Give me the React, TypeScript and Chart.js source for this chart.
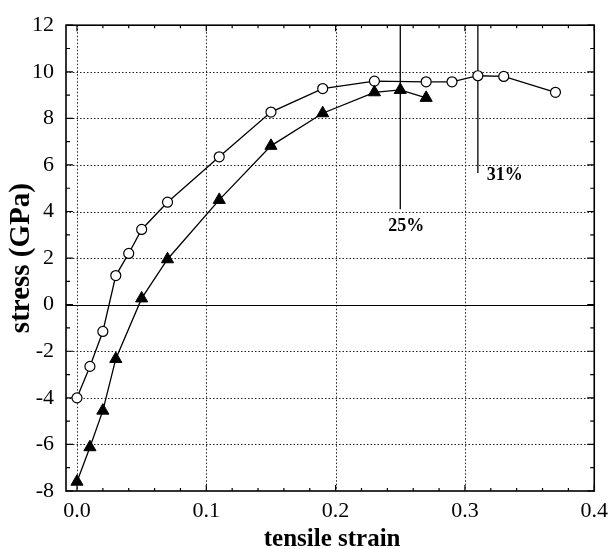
import React, { useEffect, useRef } from 'react';
import { Chart, registerables } from 'chart.js';

Chart.register(...registerables);

// open circles
const strainCircles = [0, 0.01, 0.02, 0.03, 0.04, 0.05, 0.07, 0.11, 0.15, 0.19, 0.23, 0.27, 0.29, 0.31, 0.33, 0.37];
const stressCircles = [-4.0, -2.65, -1.15, 1.25, 2.2, 3.23, 4.4, 6.35, 8.27, 9.28, 9.6, 9.57, 9.57, 9.83, 9.8, 9.12];
// filled triangles
const strainTriangles = [0, 0.01, 0.02, 0.03, 0.05, 0.07, 0.11, 0.15, 0.19, 0.23, 0.25, 0.27];
const stressTriangles = [-7.6, -6.12, -4.55, -2.33, 0.27, 1.95, 4.5, 6.82, 8.22, 9.12, 9.22, 8.88];

// annotation markers
const markStrain = [0.25, 0.31];
const markTop = [12, 12];
const markEnd = [4.1, 5.65];
const markLabels = ['25%', '31%'];

const xTicks = [0, 0.1, 0.2, 0.3, 0.4];
const yTicks = [-8, -6, -4, -2, 0, 2, 4, 6, 8, 10, 12];

const FONT = "'Liberation Serif', 'Times New Roman', serif";

const framePlugin = {
  id: 'framePlugin',
  beforeDatasetsDraw(chart: any) {
    const { ctx, chartArea: a, scales } = chart;
    const x = scales.x;
    const y = scales.y;
    ctx.save();
    // dotted grid
    ctx.strokeStyle = '#222';
    ctx.lineWidth = 1;
    ctx.setLineDash([1.5, 2]);
    for (const v of xTicks) {
      const px = Math.round(x.getPixelForValue(v)) + 0.5;
      if (px < a.left + 2 || px > a.right - 2) continue;
      ctx.beginPath();
      ctx.moveTo(px, a.top);
      ctx.lineTo(px, a.bottom);
      ctx.stroke();
    }
    for (const v of yTicks) {
      if (v === 0) continue;
      const py = Math.round(y.getPixelForValue(v)) + 0.5;
      if (py < a.top + 2 || py > a.bottom - 2) continue;
      ctx.beginPath();
      ctx.moveTo(a.left, py);
      ctx.lineTo(a.right, py);
      ctx.stroke();
    }
    ctx.setLineDash([]);
    // zero line
    ctx.strokeStyle = '#000';
    ctx.lineWidth = 1;
    const p0 = Math.round(y.getPixelForValue(0)) + 0.5;
    ctx.beginPath();
    ctx.moveTo(a.left, p0);
    ctx.lineTo(a.right, p0);
    ctx.stroke();
    // frame
    ctx.lineWidth = 1.6;
    ctx.strokeRect(a.left, a.top, a.right - a.left, a.bottom - a.top);
    // inward ticks
    ctx.lineWidth = 1.2;
    for (let k = 0; k <= 20; k++) {
      const v = k * 0.02;
      const px = x.getPixelForValue(v);
      const len = k % 5 === 0 ? 6 : 3;
      ctx.beginPath();
      ctx.moveTo(px, a.bottom);
      ctx.lineTo(px, a.bottom - len);
      ctx.moveTo(px, a.top);
      ctx.lineTo(px, a.top + len);
      ctx.stroke();
    }
    for (let v = -8; v <= 12; v++) {
      const py = y.getPixelForValue(v);
      const len = v % 2 === 0 ? 7 : 4;
      ctx.beginPath();
      ctx.moveTo(a.left, py);
      ctx.lineTo(a.left + len, py);
      ctx.moveTo(a.right, py);
      ctx.lineTo(a.right - len, py);
      ctx.stroke();
    }
    ctx.restore();
  },
  afterDraw(chart: any) {
    const { ctx, chartArea: a, scales } = chart;
    const x = scales.x;
    const y = scales.y;
    ctx.save();
    ctx.fillStyle = '#000';
    // axis titles
    ctx.font = `bold 25px ${FONT}`;
    ctx.textAlign = 'center';
    ctx.textBaseline = 'alphabetic';
    ctx.fillText('tensile strain', (a.left + a.right) / 2 + 2, 546);
    ctx.save();
    ctx.translate(29, (a.top + a.bottom) / 2);
    ctx.rotate(-Math.PI / 2);
    ctx.font = `bold 29px ${FONT}`;
    ctx.fillText('stress (GPa)', 0, 0);
    ctx.restore();
    // annotation labels
    ctx.font = `bold 18px ${FONT}`;
    ctx.textBaseline = 'middle';
    markLabels.forEach((t, i) => {
      const px = x.getPixelForValue(markStrain[i]);
      const py = y.getPixelForValue(markEnd[i]);
      if (i === 0) {
        ctx.textAlign = 'center';
        ctx.fillText(t, px + 6, py + 17);
      } else {
        ctx.textAlign = 'left';
        ctx.fillText(t, px + 9, py + 2);
      }
    });
    ctx.restore();
  },
};

export default function App() {
  const ref = useRef<HTMLCanvasElement | null>(null);
  useEffect(() => {
    document.body.style.margin = '0';
    const canvas = ref.current;
    if (!canvas) return;
    const markSets = markStrain.map((s, i) => ({
      label: markLabels[i],
      data: [
        { x: s, y: markTop[i] },
        { x: s, y: markEnd[i] },
      ],
      showLine: true,
      borderColor: '#000',
      borderWidth: 1.3,
      pointRadius: 0,
      order: 3,
    }));
    const chart = new Chart(canvas, {
      type: 'scatter',
      data: {
        datasets: [
          {
            label: 'triangles',
            data: strainTriangles.map((s, i) => ({ x: s, y: stressTriangles[i] })),
            showLine: true,
            borderColor: '#000',
            borderWidth: 1.3,
            pointStyle: 'triangle',
            pointRadius: 7,
            pointBackgroundColor: '#000',
            pointBorderColor: '#000',
            pointBorderWidth: 1,
            order: 1,
          },
          {
            label: 'circles',
            data: strainCircles.map((s, i) => ({ x: s, y: stressCircles[i] })),
            showLine: true,
            borderColor: '#000',
            borderWidth: 1.3,
            pointStyle: 'circle',
            pointRadius: 5,
            pointBackgroundColor: '#fff',
            pointBorderColor: '#000',
            pointBorderWidth: 1.2,
            order: 2,
          },
          ...markSets,
        ] as any,
      },
      options: {
        responsive: false,
        animation: false,
        events: [],
        layout: { padding: { left: 0, top: 23, right: 16, bottom: 0 } },
        plugins: {
          legend: { display: false },
          tooltip: { enabled: false },
        },
        scales: {
          x: {
            type: 'linear',
            min: -0.0085,
            max: 0.4,
            grid: { display: false, drawTicks: false },
            border: { display: false },
            afterBuildTicks: (s: any) => {
              s.ticks = xTicks.map((v) => ({ value: v }));
            },
            afterFit: (s: any) => {
              s.height = 58;
            },
            ticks: {
              color: '#000',
              padding: 7,
              maxRotation: 0,
              autoSkip: false,
              font: { family: FONT, size: 22 },
              callback: (v: any) => Number(v).toFixed(1),
            },
          },
          y: {
            type: 'linear',
            min: -8,
            max: 12,
            grid: { display: false, drawTicks: false },
            border: { display: false },
            afterBuildTicks: (s: any) => {
              s.ticks = yTicks.map((v) => ({ value: v }));
            },
            afterFit: (s: any) => {
              s.width = 66;
            },
            ticks: {
              color: '#000',
              padding: 12,
              autoSkip: false,
              font: { family: FONT, size: 22 },
              callback: (v: any) => String(v),
            },
          },
        },
      },
      plugins: [framePlugin],
    });
    return () => chart.destroy();
  }, []);
  return <canvas ref={ref} width={615} height={549} style={{ display: 'block' }} />;
}
